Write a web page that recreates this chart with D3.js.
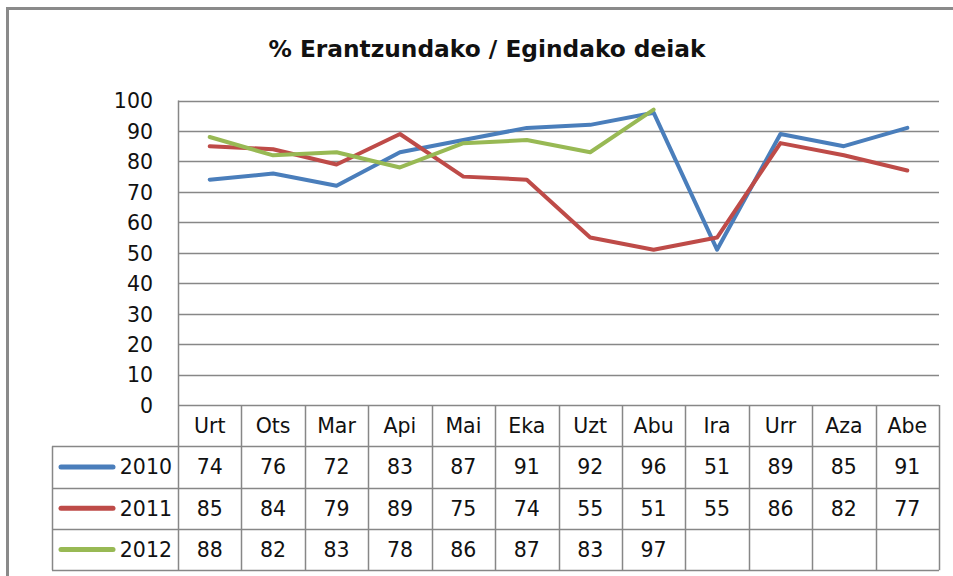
<!DOCTYPE html>
<html>
<head>
<meta charset="utf-8">
<script src="https://cdn.jsdelivr.net/npm/d3@7"></script>
<style>
  body { margin: 0; background: #fff; }
  svg text { font-family: "DejaVu Sans", sans-serif; fill: #111; }
</style>
</head>
<body>
<div id="chart"></div>
<script>
// data
var months = ["Urt", "Ots", "Mar", "Api", "Mai", "Eka", "Uzt", "Abu", "Ira", "Urr", "Aza", "Abe"];
var years = ["2010", "2011", "2012"];
var v2010 = [74, 76, 72, 83, 87, 91, 92, 96, 51, 89, 85, 91];
var v2011 = [85, 84, 79, 89, 75, 74, 55, 51, 55, 86, 82, 77];
var v2012 = [88, 82, 83, 78, 86, 87, 83, 97];
var yTicks = [0, 10, 20, 30, 40, 50, 60, 70, 80, 90, 100];
var colors = ["#4a7ebb", "#be4b48", "#98b954"];

var series = [v2010, v2011, v2012].map(function(vals, i) {
    return { name: years[i], color: colors[i], values: vals };
});

var W = 953, H = 576;
var plot = { left: 178, right: 939, top: 100.5, bottom: 405 };
var rowH = 41.3;
var legendLeft = 52;
var grid = "#878787";
var fs = 20.5;

var svg = d3.select("#chart").append("svg")
    .attr("width", W)
    .attr("height", H);

// chart frame (only top and left edges are inside the crop)
svg.append("path")
    .attr("d", "M7.5," + H + "V8.5H" + W)
    .attr("fill", "none")
    .attr("stroke", "#8a8a8a")
    .attr("stroke-width", 3);

svg.append("text")
    .attr("x", 487)
    .attr("y", 57)
    .attr("text-anchor", "middle")
    .attr("font-size", 23)
    .attr("font-weight", "bold")
    .attr("textLength", 437)
    .attr("lengthAdjust", "spacingAndGlyphs")
    .text("% Erantzundako / Egindako deiak");

var x = d3.scaleBand()
    .domain(months)
    .range([plot.left, plot.right]);

var y = d3.scaleLinear()
    .domain([0, 100])
    .range([plot.bottom, plot.top]);

// gridlines
svg.append("g")
    .selectAll("line")
    .data(yTicks)
    .enter().append("line")
    .attr("x1", plot.left)
    .attr("x2", plot.right)
    .attr("y1", function(d) { return Math.round(y(d)) + 0.5; })
    .attr("y2", function(d) { return Math.round(y(d)) + 0.5; })
    .attr("stroke", grid)
    .attr("stroke-width", 1.5);

// y axis labels
var yAxis = d3.axisLeft(y)
    .tickValues(yTicks)
    .tickSize(0)
    .tickPadding(25);

svg.append("g")
    .attr("transform", "translate(" + plot.left + ",0)")
    .call(yAxis)
    .call(function(g) { g.select(".domain").remove(); })
    .selectAll("text")
    .attr("font-size", fs)
    .attr("font-family", "'DejaVu Sans', sans-serif")
    .attr("fill", "#111")
    .attr("dy", "0.36em");

svg.append("line")
    .attr("x1", plot.left + 0.5).attr("x2", plot.left + 0.5)
    .attr("y1", plot.top).attr("y2", plot.bottom)
    .attr("stroke", grid).attr("stroke-width", 1.5);

// data table
var tableTop = plot.bottom;
var tableBottom = tableTop + rowH * 4;
var t = svg.append("g").attr("stroke", grid).attr("stroke-width", 1.5);

d3.range(months.length + 1).forEach(function(i) {
    var xx = i < months.length ? x(months[i]) : plot.right;
    t.append("line")
        .attr("x1", Math.round(xx) + 0.5).attr("x2", Math.round(xx) + 0.5)
        .attr("y1", tableTop).attr("y2", tableBottom);
});
t.append("line")
    .attr("x1", legendLeft + 0.5).attr("x2", legendLeft + 0.5)
    .attr("y1", tableTop + rowH).attr("y2", tableBottom);
d3.range(1, 5).forEach(function(r) {
    var yy = Math.round(tableTop + rowH * r) + 0.5;
    t.append("line")
        .attr("x1", legendLeft).attr("x2", plot.right)
        .attr("y1", yy).attr("y2", yy);
});

svg.append("g")
    .selectAll("text")
    .data(months)
    .enter().append("text")
    .attr("x", function(d) { return x(d) + x.bandwidth() / 2; })
    .attr("y", tableTop + rowH / 2)
    .attr("dy", "0.36em")
    .attr("text-anchor", "middle")
    .attr("font-size", fs)
    .text(function(d) { return d; });

series.forEach(function(s, r) {
    var cy = tableTop + rowH * (r + 1.5);
    var row = svg.append("g");
    row.append("line")
        .attr("x1", 61).attr("x2", 113)
        .attr("y1", cy).attr("y2", cy)
        .attr("stroke", s.color)
        .attr("stroke-width", 5)
        .attr("stroke-linecap", "round");
    row.append("text")
        .attr("x", 172)
        .attr("y", cy)
        .attr("dy", "0.36em")
        .attr("text-anchor", "end")
        .attr("font-size", fs)
        .text(s.name);
    row.selectAll("text.val")
        .data(s.values)
        .enter().append("text")
        .attr("class", "val")
        .attr("x", function(d, i) { return x(months[i]) + x.bandwidth() / 2; })
        .attr("y", cy)
        .attr("dy", "0.36em")
        .attr("text-anchor", "middle")
        .attr("font-size", fs)
        .text(function(d) { return d; });
});

// lines
var line = d3.line()
    .x(function(d, i) { return x(months[i]) + x.bandwidth() / 2; })
    .y(function(d) { return y(d); });

svg.append("g")
    .selectAll("path")
    .data(series)
    .enter().append("path")
    .attr("d", function(d) { return line(d.values); })
    .attr("fill", "none")
    .attr("stroke", function(d) { return d.color; })
    .attr("stroke-width", 4)
    .attr("stroke-linejoin", "round")
    .attr("stroke-linecap", "round");
</script>
</body>
</html>
